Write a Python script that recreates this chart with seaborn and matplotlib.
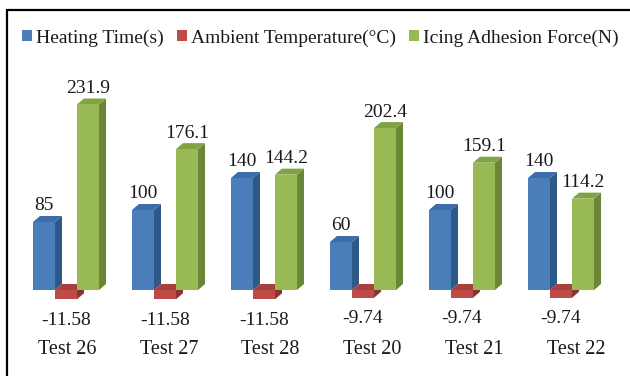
import numpy as np
import pandas as pd
import matplotlib
matplotlib.use("Agg")
import matplotlib.pyplot as plt
from matplotlib.patches import Polygon, Patch
from matplotlib.lines import Line2D
import seaborn as sns

# ---- data -------------------------------------------------------------
tests = ["Test 26", "Test 27", "Test 28", "Test 20", "Test 21", "Test 22"]
heating_time = [85, 100, 140, 60, 100, 140]
ambient_temp = [-11.58, -11.58, -11.58, -9.74, -9.74, -9.74]
adhesion_force = [231.9, 176.1, 144.2, 202.4, 159.1, 114.2]
series_names = ["Heating Time(s)", "Ambient Temperature(\u00b0C)", "Icing Adhesion Force(N)"]

# ---- style ------------------------------------------------------------
front_colors = ["#4A7EBB", "#BE4B48", "#98B954"]
side_colors = ["#2E5888", "#8A3533", "#6A8738"]
top_colors = ["#3C6CA9", "#A8403D", "#82A343"]

sns.set_theme(style="white")
plt.rcParams["font.family"] = ["Liberation Serif", "DejaVu Serif"]
plt.rcParams["text.color"] = "#1a1a1a"

df = pd.DataFrame({
    "test": tests * 3,
    "series": np.repeat(series_names, len(tests)),
    "value": heating_time + ambient_temp + adhesion_force,
})

W, H = 630, 376
fig = plt.figure(figsize=(W / 100, H / 100), dpi=100)
ylo, yhi = -45, 290
px_per_unit = 0.8
ax_h = (yhi - ylo) * px_per_unit
ax_bottom = (H - 290) - (0 - ylo) * px_per_unit
ax = fig.add_axes([16.5 / W, ax_bottom / H, 594 / W, ax_h / H])

sns.barplot(data=df, x="test", y="value", hue="series", order=tests,
            hue_order=series_names, palette=front_colors, width=0.667,
            saturation=1, edgecolor="none", linewidth=0, legend=False, ax=ax)

ax.set_xlim(-0.5, len(tests) - 0.5)
ax.set_ylim(ylo, yhi)
ax.set_xticks(range(len(tests)), labels=[])
ax.set_yticks([])
ax.set_xlabel("")
ax.set_ylabel("")
ax.tick_params(length=0)
for s in ax.spines.values():
    s.set_visible(False)

# ---- extruded sides and tops for a 3D column look ---------------------
depth_px = (7, 6)
p0 = ax.transData.transform((0, 0))
p1 = ax.transData.inverted().transform((p0[0] + depth_px[0], p0[1] + depth_px[1]))
ddx, ddy = p1[0], p1[1]

color_index = {}
for k, col in enumerate(front_colors):
    color_index[matplotlib.colors.to_hex(col)] = k

bars = sorted(ax.patches, key=lambda p: p.get_x())
for z, bar in enumerate(bars):
    k = color_index[matplotlib.colors.to_hex(bar.get_facecolor())]
    x0 = bar.get_x()
    x1 = x0 + bar.get_width()
    h = bar.get_height()
    lo, hi = min(0, h), max(0, h)
    zo = 2 + z * 0.01
    bar.set_zorder(zo + 0.003)
    side = Polygon([(x1, lo), (x1 + ddx, lo + ddy), (x1 + ddx, hi + ddy), (x1, hi)],
                   closed=True, facecolor=side_colors[k], edgecolor="none", zorder=zo)
    top = Polygon([(x0, hi), (x0 + ddx, hi + ddy), (x1 + ddx, hi + ddy), (x1, hi)],
                  closed=True, facecolor=top_colors[k], edgecolor="none", zorder=zo + 0.001)
    ax.add_patch(side)
    ax.add_patch(top)
    cx = x0 + bar.get_width() / 2
    label = f"{h:g}"
    if h >= 0:
        ax.annotate(label, xy=(cx, h), xytext=(0, 11.5), textcoords="offset pixels",
                    ha="center", va="baseline", fontsize=14, zorder=10)
    else:
        ax.annotate(label, xy=(cx, h), xytext=(0, -21), textcoords="offset pixels",
                    ha="center", va="center", fontsize=14, zorder=10)

# category names, with a slight perspective drift toward the right
for i, name in enumerate(tests):
    ax.annotate(name, xy=(i, 0), xycoords=("data", "axes fraction"),
                xytext=(1 + 2.8 * i, -23), textcoords="offset pixels",
                ha="center", va="center", fontsize=14.5)

# ---- legend ------------------------------------------------------------
handles = [Patch(facecolor=c, edgecolor="none") for c in front_colors]
fig.legend(handles, series_names, loc="center left",
           bbox_to_anchor=(22 / W, 1 - 38 / H), bbox_transform=fig.transFigure,
           ncol=3, frameon=False, fontsize=14, handlelength=0.52, handleheight=0.52,
           handletextpad=0.2, columnspacing=0.67, borderpad=0, borderaxespad=0)

# ---- outer frame (left and top edges) --------------------------------
fig.add_artist(Line2D([7 / W, 7 / W], [0, 1 - 10 / H], transform=fig.transFigure,
                      color="black", linewidth=1.6))
fig.add_artist(Line2D([7 / W, 1], [1 - 10 / H, 1 - 10 / H], transform=fig.transFigure,
                      color="black", linewidth=1.6))

fig.savefig("out.png", dpi=100)
